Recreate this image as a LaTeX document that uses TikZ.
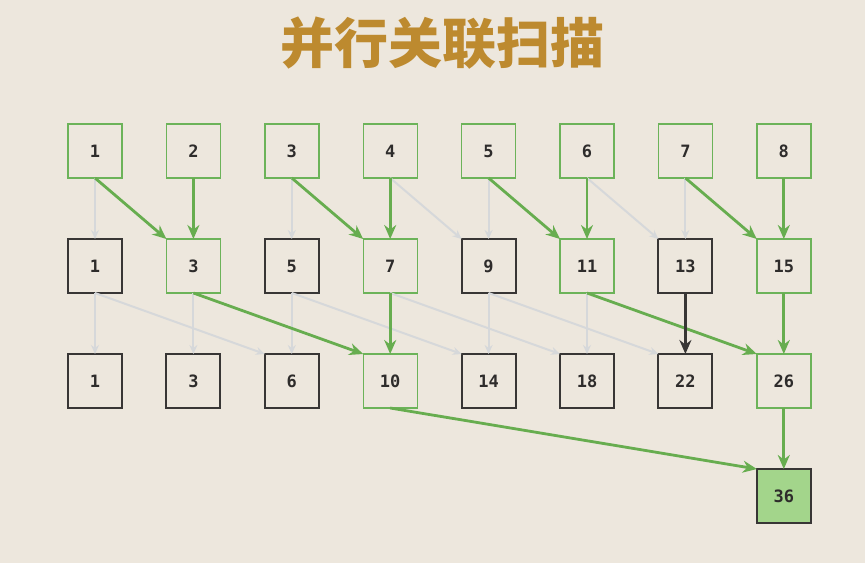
\documentclass[tikz,border=0pt]{standalone}
\usepackage{fontspec}
\setmonofont{DejaVu Sans Mono}
\newfontfamily\titlefont{Noto Sans CJK SC}
\usetikzlibrary{arrows.meta,positioning}

\definecolor{bgcol}{HTML}{EDE7DD}
\definecolor{titlecol}{HTML}{BD8A2F}
\definecolor{boxgreen}{HTML}{6CB359}
\definecolor{arrgreen}{HTML}{67AD4F}
\definecolor{boxdark}{HTML}{383635}
\definecolor{finalfill}{HTML}{A3D58B}
\definecolor{faintgrey}{HTML}{D6D8DA}
\definecolor{numcol}{HTML}{2E2C2B}

\begin{document}
\begin{tikzpicture}[
    x=1pt, y=-1pt,
    node distance=61pt and 44.4pt,
    box/.style={draw=boxgreen, line width=1.4pt, fill=bgcol, minimum size=54pt, inner sep=0pt, outer sep=0pt, text=numcol, font=\ttfamily\bfseries\fontsize{17}{17}\selectfont},
    done/.style={box, draw=boxdark, line width=1.9pt},
    final/.style={done, fill=finalfill},
    arrow/.style={-{Stealth[length=14pt,width=12pt]}, line width=2.8pt, draw=arrgreen},
    carry/.style={arrow, draw=boxdark},
    faint/.style={-{Stealth[length=9pt,width=8pt]}, line width=2pt, draw=faintgrey}
]
\fill[bgcol] (0,0) rectangle (865,563);
\useasboundingbox (0,0) rectangle (865,563);

\node[font=\titlefont\bfseries\fontsize{54}{54}\selectfont, text=titlecol] (title) at (442,43) {并行关联扫描};

% input row
\node[box] (a1) at (95,151) {1};
\node[box, right=of a1] (a2) {2};
\node[box, right=of a2] (a3) {3};
\node[box, right=of a3] (a4) {4};
\node[box, right=of a4] (a5) {5};
\node[box, right=of a5] (a6) {6};
\node[box, right=of a6] (a7) {7};
\node[box, right=of a7] (a8) {8};

% step 1
\node[done, below=of a1] (b1) {1};
\node[box, right=of b1] (b2) {3};
\node[done, right=of b2] (b3) {5};
\node[box, right=of b3] (b4) {7};
\node[done, right=of b4] (b5) {9};
\node[box, right=of b5] (b6) {11};
\node[done, right=of b6] (b7) {13};
\node[box, right=of b7] (b8) {15};

% step 2
\node[done, below=of b1] (c1) {1};
\node[done, right=of c1] (c2) {3};
\node[done, right=of c2] (c3) {6};
\node[box, right=of c3] (c4) {10};
\node[done, right=of c4] (c5) {14};
\node[done, right=of c5] (c6) {18};
\node[done, right=of c6] (c7) {22};
\node[box, right=of c7] (c8) {26};

% step 3
\node[final, below=of c8] (d8) {36};

% faint edges
\draw[faint] (a1.south) -- (b1.north);
\draw[faint] (a3.south) -- (b3.north);
\draw[faint] (a5.south) -- (b5.north);
\draw[faint] (a7.south) -- (b7.north);
\draw[faint] (a4.south) -- (b5.north west);
\draw[faint] (a6.south) -- (b7.north west);
\draw[faint] (b1.south) -- (c1.north);
\draw[faint] (b2.south) -- (c2.north);
\draw[faint] (b3.south) -- (c3.north);
\draw[faint] (b5.south) -- (c5.north);
\draw[faint] (b6.south) -- (c6.north);
\draw[faint] (b1.south) -- (c3.north west);
\draw[faint] (b3.south) -- (c5.north west);
\draw[faint] (b4.south) -- (c6.north west);
\draw[faint] (b5.south) -- (c7.north west);

% reduction path
\draw[arrow] (a1.south) -- (b2.north west);
\draw[arrow] (a2.south) -- (b2.north);
\draw[arrow] (a3.south) -- (b4.north west);
\draw[arrow] (a4.south) -- (b4.north);
\draw[arrow] (a5.south) -- (b6.north west);
\draw[arrow] (a6.south) -- (b6.north);
\draw[arrow] (a7.south) -- (b8.north west);
\draw[arrow] (a8.south) -- (b8.north);
\draw[arrow] (b2.south) -- (c4.north west);
\draw[arrow] (b4.south) -- (c4.north);
\draw[arrow] (b6.south) -- (c8.north west);
\draw[arrow] (b8.south) -- (c8.north);
\draw[carry] (b7.south) -- (c7.north);
\draw[arrow] (c4.south) -- (d8.north west);
\draw[arrow] (c8.south) -- (d8.north);
\end{tikzpicture}
\end{document}
